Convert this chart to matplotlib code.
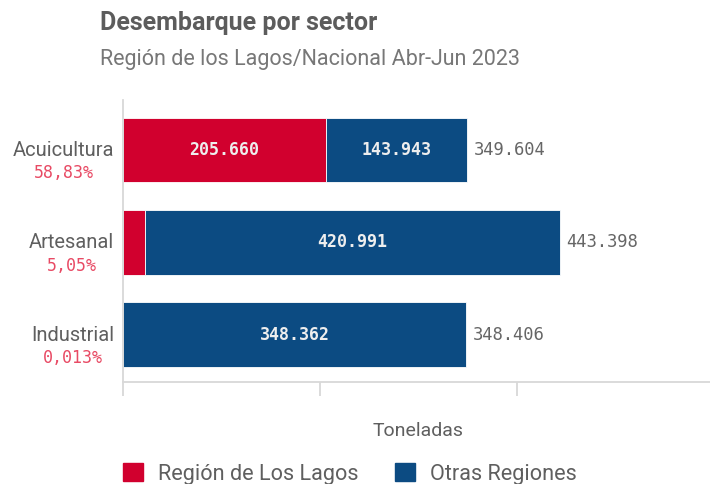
import numpy as np
import matplotlib.pyplot as plt
from matplotlib.patches import Patch

# datos (toneladas)
sectores = ['Acuicultura', 'Artesanal', 'Industrial']
los_lagos = [205660, 22407, 44]
otras = [143943, 420991, 348362]
totales = [349604, 443398, 348406]
porcentajes = ['58,83%', '5,05%', '0,013%']

rojo = '#d1002e'
azul = '#0c4b82'
gris = '#5f5f5f'

def fmt(v):
    return f"{v:,.0f}".replace(',', '.')

fig = plt.figure(figsize=(7.1, 4.84), dpi=100)
ax = fig.add_axes([123/710, 1-382/484, 1-123/710, 282/484])

y = np.arange(len(sectores))
ax.barh(y, los_lagos, height=0.70, color=rojo, edgecolor='white', linewidth=0.6)
ax.barh(y, otras, left=los_lagos, height=0.70, color=azul, edgecolor='white', linewidth=0.6)

ax.set_xlim(0, 596000)
ax.set_ylim(2.51, -0.54)

# etiquetas dentro de las barras
for i in range(len(sectores)):
    if los_lagos[i] > 60000:
        ax.text(los_lagos[i]/2, i, fmt(los_lagos[i]), ha='center', va='center',
                color='#eeeeee', fontsize=12, family='DejaVu Sans Mono', fontweight='bold')
    ax.text(los_lagos[i] + otras[i]/2, i, fmt(otras[i]), ha='center', va='center',
            color='#eeeeee', fontsize=12, family='DejaVu Sans Mono', fontweight='bold')
    ax.annotate(fmt(totales[i]), xy=(totales[i], i), xytext=(5, 0), textcoords='offset points',
                ha='left', va='center', color='#666666', fontsize=12.3, family='DejaVu Sans Mono')

# categorias + porcentaje
ytr = ax.get_yaxis_transform()
for i, s in enumerate(sectores):
    t = ax.text(-0.015, i + 0.005, s, transform=ytr, ha='right', va='center',
                color=gris, fontsize=14.5, family='Roboto')
    ax.annotate(porcentajes[i], xy=(0.5, 0), xycoords=t, xytext=(0, -3), textcoords='offset points',
                ha='center', va='top', color='#e84a64', fontsize=12, family='DejaVu Sans Mono')

ax.set_yticks([])
ax.set_xticks([0, 200000, 400000])
ax.set_xticklabels([])
ax.tick_params(axis='x', length=10, color='#d8d8d8', width=1.3)
for sp in ['top', 'right']:
    ax.spines[sp].set_visible(False)
ax.spines['left'].set_color('#d8d8d8')
ax.spines['bottom'].set_color('#d8d8d8')
ax.spines['left'].set_linewidth(1.3)
ax.spines['bottom'].set_linewidth(1.3)
ax.set_xlabel('Toneladas', fontsize=14, color=gris, family='Roboto', va='center')
ax.xaxis.set_label_coords(0.502, (382-431)/282)

fig.text(100/710, 1-23/484, 'Desembarque por sector', fontsize=18, fontweight='bold',
         color='#5c5c5c', family='Roboto', va='center')
fig.text(100/710, 1-59/484, 'Región de los Lagos/Nacional Abr-Jun 2023', fontsize=15.5,
         color='#777777', family='Roboto', va='center')

handles = [Patch(color=rojo, label='Región de Los Lagos'), Patch(color=azul, label='Otras Regiones')]
leg = fig.legend(handles=handles, loc='center left', bbox_to_anchor=(123/710, 1-474/484), ncol=2,
                 frameon=False, handlelength=0.92, handleheight=0.92, columnspacing=1.66,
                 handletextpad=0.7, borderpad=0, borderaxespad=0,
                 prop={'family': 'Roboto', 'size': 15.6})
for txt in leg.get_texts():
    txt.set_color(gris)

fig.savefig('out.png', dpi=100)
